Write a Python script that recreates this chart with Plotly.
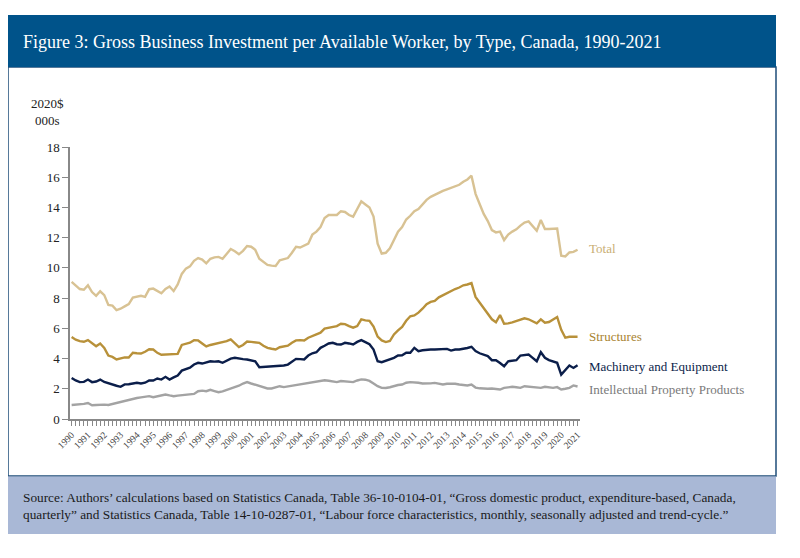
import pandas as pd
import plotly.graph_objects as go

# quarterly, 1990Q1 - 2021Q1, thousands of 2020 dollars per available worker
quarters = pd.period_range("1990Q1", "2021Q1", freq="Q")

total = [
    9.07, 8.8, 8.6, 8.55, 8.85, 8.4, 8.15, 8.45, 8.2, 7.55,
    7.5, 7.21, 7.3, 7.45, 7.6, 8.03, 8.1, 8.15, 8.08, 8.59,
    8.63, 8.45, 8.32, 8.6, 8.77, 8.47, 8.91, 9.6, 9.95, 10.1,
    10.47, 10.65, 10.55, 10.3, 10.6, 10.7, 10.73, 10.6, 10.9, 11.25,
    11.1, 10.9, 11.13, 11.45, 11.4, 11.2, 10.6, 10.4, 10.2, 10.15,
    10.13, 10.5, 10.55, 10.65, 11.0, 11.4, 11.35, 11.45, 11.6, 12.2,
    12.4, 12.7, 13.3, 13.5, 13.5, 13.5, 13.75, 13.7, 13.5, 13.39,
    13.9, 14.4, 14.2, 14.0, 13.4, 11.6, 10.95, 11.0, 11.3, 11.9,
    12.4, 12.7, 13.2, 13.45, 13.75, 13.9, 14.2, 14.5, 14.7, 14.85,
    15.0, 15.1, 15.2, 15.3, 15.4, 15.5, 15.7, 15.85, 16.1, 14.9,
    14.23, 13.57, 13.1, 12.5, 12.35, 12.4, 11.84, 12.2, 12.4, 12.55,
    12.8, 13.0, 13.08, 12.79, 12.46, 13.17, 12.57, 12.57, 12.6, 12.6,
    10.8, 10.76, 11.02, 11.06, 11.2,
]
structures = [
    5.42, 5.25, 5.15, 5.11, 5.22, 5.0, 4.82, 5.0, 4.71, 4.2,
    4.11, 3.94, 4.02, 4.08, 4.07, 4.38, 4.35, 4.33, 4.45, 4.62,
    4.6, 4.38, 4.25, 4.27, 4.28, 4.3, 4.31, 4.9, 5.0, 5.05,
    5.22, 5.2, 5.0, 4.8, 4.9, 4.96, 5.0, 5.05, 5.15, 5.27,
    5.0, 4.76, 4.9, 5.13, 5.1, 5.09, 5.04, 4.85, 4.71, 4.65,
    4.6, 4.75, 4.82, 4.85, 5.05, 5.2, 5.22, 5.2, 5.38, 5.5,
    5.6, 5.71, 5.98, 6.05, 6.1, 6.15, 6.3, 6.28, 6.15, 6.04,
    6.15, 6.59, 6.53, 6.5, 6.11, 5.45, 5.2, 5.09, 5.16, 5.6,
    5.87, 6.1, 6.5, 6.8, 6.85, 7.04, 7.3, 7.6, 7.75, 7.82,
    8.05, 8.2, 8.33, 8.45, 8.6, 8.7, 8.85, 8.9, 8.99, 8.08,
    7.71, 7.3, 6.95, 6.6, 6.4, 6.88, 6.31, 6.33, 6.4, 6.48,
    6.55, 6.66, 6.6, 6.45, 6.33, 6.59, 6.37, 6.42, 6.6, 6.75,
    5.9, 5.38, 5.44, 5.44, 5.44,
]
machinery = [
    2.72, 2.55, 2.44, 2.46, 2.61, 2.44, 2.48, 2.61, 2.45, 2.35,
    2.3, 2.2, 2.13, 2.29, 2.3, 2.33, 2.4, 2.35, 2.4, 2.55,
    2.55, 2.68, 2.61, 2.79, 2.61, 2.75, 2.88, 3.2, 3.3, 3.4,
    3.61, 3.72, 3.67, 3.75, 3.82, 3.8, 3.82, 3.72, 3.85, 4.0,
    4.05, 3.98, 3.96, 3.94, 3.9, 3.82, 3.43, 3.45, 3.49, 3.5,
    3.49, 3.52, 3.54, 3.6, 3.82, 3.98, 3.96, 3.94, 4.2, 4.35,
    4.42, 4.71, 4.85, 5.0, 5.04, 4.95, 4.93, 5.04, 5.0, 4.93,
    5.1, 5.22, 5.09, 4.95, 4.6, 3.82, 3.76, 3.85, 3.94, 4.05,
    4.2, 4.22, 4.38, 4.38, 4.71, 4.49, 4.55, 4.6, 4.6, 4.6,
    4.6, 4.62, 4.64, 4.53, 4.6, 4.6, 4.64, 4.7, 4.78, 4.49,
    4.35, 4.24, 4.16, 3.89, 3.89, 3.7, 3.49, 3.82, 3.85, 3.89,
    4.2, 4.25, 4.27, 4.05, 3.82, 4.42, 4.05, 3.9, 3.8, 3.72,
    2.94, 3.27, 3.54, 3.38, 3.56,
]
ipp = [
    0.93, 0.94, 0.95, 1.0, 1.06, 0.91, 0.93, 0.95, 0.95, 0.93,
    1.0, 1.06, 1.15, 1.2, 1.25, 1.33, 1.39, 1.43, 1.46, 1.51,
    1.44, 1.5, 1.55, 1.62, 1.56, 1.51, 1.55, 1.57, 1.59, 1.62,
    1.66, 1.84, 1.88, 1.84, 1.93, 1.85, 1.77, 1.83, 1.92, 2.0,
    2.06, 2.2, 2.35, 2.44, 2.35, 2.28, 2.2, 2.13, 2.02, 2.02,
    2.12, 2.17, 2.11, 2.15, 2.22, 2.26, 2.3, 2.33, 2.4, 2.44,
    2.48, 2.51, 2.56, 2.53, 2.48, 2.44, 2.51, 2.49, 2.46, 2.44,
    2.55, 2.62, 2.6, 2.52, 2.35, 2.17, 2.06, 2.05, 2.1, 2.2,
    2.25, 2.28, 2.4, 2.44, 2.44, 2.4, 2.35, 2.33, 2.36, 2.39,
    2.33, 2.28, 2.33, 2.35, 2.33, 2.28, 2.25, 2.22, 2.28, 2.08,
    2.03, 2.0, 2.0, 2.02, 2.0, 1.95, 2.06, 2.1, 2.13, 2.1,
    2.06, 2.17, 2.15, 2.13, 2.08, 2.06, 2.13, 2.08, 2.06, 2.11,
    1.95, 2.0, 2.06, 2.22, 2.15,
]

series_names = ["Total", "Structures", "Machinery and Equipment", "Intellectual Property Products"]
series_colors = ["#D8C293", "#B8913A", "#0B1E4A", "#A3A3A3"]
label_colors = ["#C9AE74", "#A8832F", "#0B1E4A", "#7A7A7A"]
label_y = [11.3, 5.47, 3.47, 1.95]

title = "Figure 3: Gross Business Investment per Available Worker, by Type, Canada, 1990-2021"
source = ("Source: Authors’ calculations based on Statistics Canada, Table 36-10-0104-01, “Gross domestic product, expenditure-based, Canada,<br>"
          "quarterly” and Statistics Canada, Table 14-10-0287-01, “Labour force characteristics, monthly, seasonally adjusted and trend-cycle.”")

x = [p.year + (p.quarter - 1) / 4 for p in quarters]
FONT = "Liberation Serif"

# the page body has an 8px margin, so the figure is drawn 8px smaller and
# all positions below are given in page pixels
OFF = 8
W, H = 800 - OFF, 558 - OFF
L, R, T, B = 70, 580, 147, 419  # plot area, page pixels


def px(xp):
    return (xp - L) / (R - L)


def py(yp):
    return (B - yp) / (B - T)


fig = go.Figure()
for name, vals, col in zip(series_names, [total, structures, machinery, ipp], series_colors):
    fig.add_trace(go.Scatter(x=x, y=vals, mode="lines", name=name,
                             line=dict(color=col, width=2.4), showlegend=False))

for name, yv, col in zip(series_names, label_y, label_colors):
    fig.add_annotation(x=px(587), xref="paper", y=yv, yref="y", text=name, showarrow=False,
                       xanchor="left", font=dict(family=FONT, size=13, color=col))

# frame pieces
fig.add_shape(type="rect", xref="paper", yref="paper", x0=px(8), x1=px(776), y0=py(476), y1=py(67),
              line=dict(color="#1F4E79", width=1.5), fillcolor="rgba(0,0,0,0)", layer="below")
fig.add_shape(type="rect", xref="paper", yref="paper", x0=px(8), x1=px(776), y0=py(67), y1=py(15),
              line=dict(color="#00538A", width=0), fillcolor="#00538A", layer="below")
fig.add_shape(type="rect", xref="paper", yref="paper", x0=px(8), x1=px(776), y0=py(534), y1=py(476.5),
              line=dict(color="#A9B8D6", width=0), fillcolor="#A9B8D6", layer="below")

fig.add_annotation(x=px(21), y=py(42), xref="paper", yref="paper", text=title, showarrow=False,
                   xanchor="left", yanchor="middle", font=dict(family=FONT, size=18, color="white"))
fig.add_annotation(x=px(47), y=py(112), xref="paper", yref="paper", text="2020$<br>000s", showarrow=False,
                   xanchor="center", yanchor="middle", align="center",
                   font=dict(family=FONT, size=13, color="#222222"))
fig.add_annotation(x=px(21), y=py(506), xref="paper", yref="paper", text=source, showarrow=False,
                   xanchor="left", yanchor="middle", align="left",
                   font=dict(family=FONT, size=13.3, color="#1a1a1a"))

fig.update_xaxes(range=[1989.9, 2021.15], showgrid=False, zeroline=False,
                 showline=True, linecolor="#888888", linewidth=1.5,
                 ticks="outside", ticklen=5, tickcolor="#888888", tick0=1990, dtick=1,
                 tickangle=-45, tickfont=dict(family=FONT, size=9.5, color="#444444"),
                 minor=dict(ticks="outside", ticklen=5, tickcolor="#888888", dtick=0.25, tick0=1990))
fig.update_yaxes(range=[0, 18], dtick=2, showgrid=False, zeroline=False,
                 showline=True, linecolor="#888888", linewidth=1.5,
                 ticks="outside", ticklen=6, tickcolor="#888888",
                 tickfont=dict(family=FONT, size=13, color="#222222"))

fig.update_layout(width=W, height=H,
                  margin=dict(l=L - OFF, r=800 - R, t=T - OFF, b=558 - B),
                  paper_bgcolor="white", plot_bgcolor="white",
                  font=dict(family=FONT))

fig.write_html("out.html")
